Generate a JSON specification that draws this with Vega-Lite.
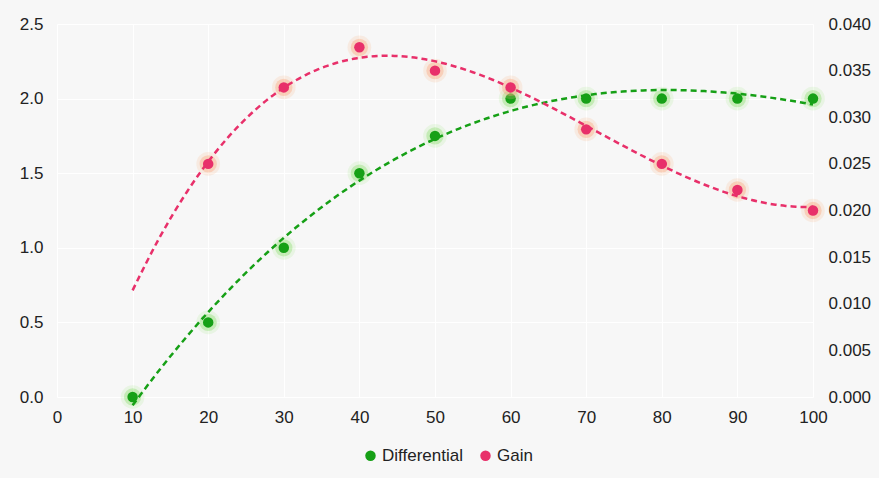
{
  "$schema": "https://vega.github.io/schema/vega-lite/v6.json",
  "width": 756,
  "height": 373,
  "autosize": "none",
  "padding": {"left": 57, "top": 24, "right": 66, "bottom": 81},
  "background": "#f7f7f7",
  "config": {
    "view": {"stroke": null},
    "font": "Liberation Sans",
    "axis": {"domain": false, "ticks": false, "tickSize": 0, "labelFontSize": 17, "labelColor": "#222", "gridColor": "#ffffff", "gridWidth": 1.2, "title": null},
    "legend": {"labelFontSize": 17, "labelColor": "#222", "symbolType": "circle", "symbolSize": 110, "symbolStrokeWidth": 0, "labelOffset": 3, "columnPadding": 14, "title": null}
  },
  "data": {"values": [
    {"x": 10, "series": "Differential", "value": 0},
    {"x": 20, "series": "Differential", "value": 0.5},
    {"x": 30, "series": "Differential", "value": 1.0},
    {"x": 40, "series": "Differential", "value": 1.5},
    {"x": 50, "series": "Differential", "value": 1.75},
    {"x": 60, "series": "Differential", "value": 2.0},
    {"x": 70, "series": "Differential", "value": 2.0},
    {"x": 80, "series": "Differential", "value": 2.0},
    {"x": 90, "series": "Differential", "value": 2.0},
    {"x": 100, "series": "Differential", "value": 2.0},
    {"x": 20, "series": "Gain", "value": 0.025},
    {"x": 30, "series": "Gain", "value": 0.0332},
    {"x": 40, "series": "Gain", "value": 0.0375},
    {"x": 50, "series": "Gain", "value": 0.035},
    {"x": 60, "series": "Gain", "value": 0.0332},
    {"x": 70, "series": "Gain", "value": 0.0287},
    {"x": 80, "series": "Gain", "value": 0.025},
    {"x": 90, "series": "Gain", "value": 0.0222},
    {"x": 100, "series": "Gain", "value": 0.02}
  ]},
  "encoding": {
    "x": {"field": "x", "type": "quantitative", "scale": {"domain": [0, 100], "nice": false}, "axis": {"values": [0,10,20,30,40,50,60,70,80,90,100], "labelPadding": 12, "labelFlush": false}}
  },
  "layer": [
    {
      "transform": [{"filter": "datum.series == 'Differential'"}],
      "encoding": {
        "y": {"field": "value", "type": "quantitative", "scale": {"domain": [0, 2.5], "nice": false}, "axis": {"orient": "left", "values": [0, 0.5, 1, 1.5, 2, 2.5], "format": ".1f", "labelPadding": 14}}
      },
      "layer": [
        {"mark": {"type": "point", "filled": true, "shape": "circle", "size": 560, "color": "#8ee66a", "opacity": 0.14}},
        {"mark": {"type": "point", "filled": true, "shape": "circle", "size": 300, "color": "#6fd84c", "opacity": 0.3}},
        {"transform": [{"regression": "value", "on": "x", "method": "poly", "order": 3, "extent": [10, 100]}],
         "mark": {"type": "line", "color": "#16a016", "strokeWidth": 2.5, "strokeDash": [6, 4], "interpolate": "monotone"}},
        {"mark": {"type": "point", "filled": true, "shape": "circle", "size": 110, "opacity": 1},
         "encoding": {"color": {"field": "series", "type": "nominal", "scale": {"domain": ["Differential", "Gain"], "range": ["#16a016", "#e8306a"]}, "legend": {"orient": "none", "direction": "horizontal", "legendX": 305, "legendY": 423}}}}
      ]
    },
    {
      "transform": [{"filter": "datum.series == 'Gain'"}],
      "encoding": {
        "y": {"field": "value", "type": "quantitative", "scale": {"domain": [0, 0.04], "nice": false}, "axis": {"orient": "right", "grid": false, "values": [0, 0.005, 0.01, 0.015, 0.02, 0.025, 0.03, 0.035, 0.04], "format": ".3f", "labelPadding": 15}}
      },
      "layer": [
        {"mark": {"type": "point", "filled": true, "shape": "circle", "size": 560, "color": "#fbbf95", "opacity": 0.22}},
        {"mark": {"type": "point", "filled": true, "shape": "circle", "size": 300, "color": "#f9a77c", "opacity": 0.4}},
        {"transform": [{"regression": "value", "on": "x", "method": "poly", "order": 3, "extent": [10, 100]}],
         "mark": {"type": "line", "color": "#e8306a", "strokeWidth": 2.5, "strokeDash": [6, 4], "interpolate": "monotone"}},
        {"mark": {"type": "point", "filled": true, "shape": "circle", "size": 110, "opacity": 1},
         "encoding": {"color": {"field": "series", "type": "nominal"}}}
      ]
    }
  ],
  "resolve": {"scale": {"y": "independent"}}
}
